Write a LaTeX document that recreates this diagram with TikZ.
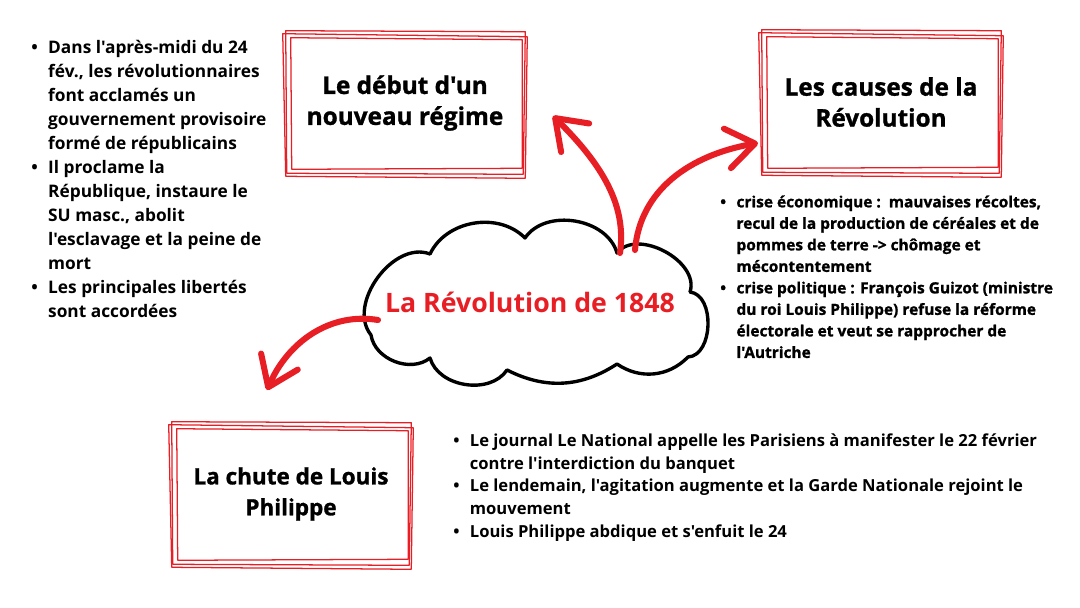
\documentclass[tikz,border=0pt]{standalone}
\usepackage{fontspec}
\setmainfont{Open Sans}[Ligatures=TeXOff]
\newfontfamily\grasfont{Open Sans}[Ligatures=TeXOff, BoldFeatures={FakeBold=1.2}]
\usetikzlibrary{arrows.meta}
\definecolor{rouge}{RGB}{232,30,37}

\tikzset{
  trait/.style={draw=rouge, line width=0.9pt, line cap=round, line join=round},
  titre/.style={font=\fontsize{17.3}{22}\selectfont\grasfont\bfseries, align=center, minimum width=58mm, minimum height=34mm, inner sep=0pt},
  fleche/.style={draw=rouge, line width=4.3pt, line cap=round, -{Straight Barb[length=7mm,width=10mm,round]}},
  nuage/.style={draw=black, line width=2.4pt, line join=round},
  liste/.style={anchor=north west, inner sep=0pt},
}

% cadre dessine a la main autour d'un noeud
\newcommand{\griffon}[1]{%
  \draw[trait] ([shift={(-3,-4)}]#1.north west) -- ([shift={(4,-3)}]#1.north east) -- ([shift={(2,3)}]#1.south east) -- ([shift={(-2,2)}]#1.south west) -- cycle;
  \draw[trait] ([shift={(-6,-1)}]#1.north west) -- ([shift={(6,2)}]#1.north east) -- ([shift={(4,7)}]#1.south east) -- ([shift={(-3,5)}]#1.south west) -- cycle;
  \draw[trait] ([shift={(2,3)}]#1.north west) -- ([shift={(1,5)}]#1.north east) -- ([shift={(1,-3)}]#1.south east) -- ([shift={(3,-2)}]#1.south west) -- cycle;
}

\begin{document}
\begin{tikzpicture}[x=0.25mm, y=-0.25mm]
  \fill[white] (0,0) rectangle (1080,607);
  \useasboundingbox (0,0) rectangle (1080,607);

  % les trois cadres
  \node[titre] (debut) at (405,103) {Le début d'un\\nouveau régime};
  \node[titre] (causes) at (881,102) {Les causes de la\\Révolution};
  \node[titre, font=\fontsize{16}{22}\selectfont\grasfont\bfseries] (chute) at (291,494) {La chute de Louis\\Philippe};
  \griffon{debut}
  \griffon{causes}
  \griffon{chute}

  % le nuage
  \draw[nuage] (371,335) to[bend left=75] (430,254) to[bend left=55] (525,238)
    to[bend left=65] (617,253) to[bend left=80] (690,292) to[bend left=85] (688,357)
    to[bend left=40] (617,364) to[bend left=30] (507,370) to[bend left=65] (430,358)
    to[bend left=60] cycle;
  \node[text=rouge, font=\fontsize{19}{21}\selectfont\bfseries] (rev) at (530,302) {La Révolution de 1848};

  % les fleches
  \coordinate (d1) at (620,253);
  \coordinate (f1) at (553,116);
  \coordinate (d2) at (635,250);
  \coordinate (f2) at (758,143);
  \coordinate (d3) at (378,320);
  \coordinate (f3) at (267,390);
  \draw[fleche] (d1) .. controls (626,210) and (608,170) .. (f1);
  \draw[fleche] (d2) .. controls (640,190) and (690,155) .. (f2);
  \draw[fleche] (d3) .. controls (330,312) and (288,342) .. (f3);

  % les textes
  \node[liste, font=\fontsize{12.3}{17.1}\selectfont\bfseries] (liste1) at (31,36) {%
    \begin{tabular}{@{}c@{\hspace{2.6mm}}l@{}}
      • & Dans l'après-midi du 24\\
        & fév., les révolutionnaires\\
        & font acclamés un\\
        & gouvernement provisoire\\
        & formé de républicains\\
      • & Il proclame la\\
        & République, instaure le\\
        & SU masc., abolit\\
        & l'esclavage et la peine de\\
        & mort\\
      • & Les principales libertés\\
        & sont accordées
    \end{tabular}};
  \node[liste, font=\fontsize{11}{15.3}\selectfont\grasfont\bfseries] (liste2) at (720,192) {%
    \begin{tabular}{@{}c@{\hspace{2.6mm}}l@{}}
      • & crise économique :\ \ mauvaises récoltes,\\
        & recul de la production de céréales et de\\
        & pommes de terre -> chômage et\\
        & mécontentement\\
      • & crise politique : François Guizot (ministre\\
        & du roi Louis Philippe) refuse la réforme\\
        & électorale et veut se rapprocher de\\
        & l'Autriche
    \end{tabular}};
  \node[liste, font=\fontsize{11.8}{16.2}\selectfont\bfseries] (liste3) at (453,430) {%
    \begin{tabular}{@{}c@{\hspace{2.6mm}}l@{}}
      • & Le journal Le National appelle les Parisiens à manifester le 22 février\\
        & contre l'interdiction du banquet\\
      • & Le lendemain, l'agitation augmente et la Garde Nationale rejoint le\\
        & mouvement\\
      • & Louis Philippe abdique et s'enfuit le 24
    \end{tabular}};
\end{tikzpicture}
\end{document}
